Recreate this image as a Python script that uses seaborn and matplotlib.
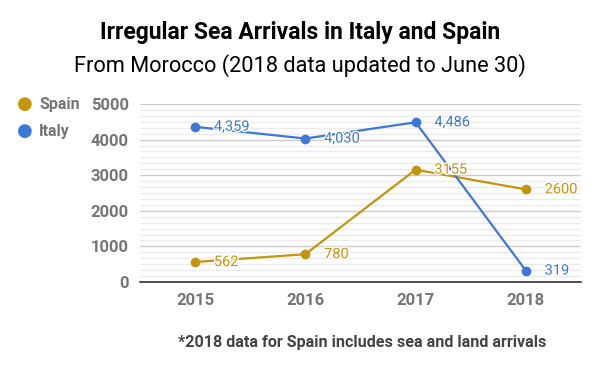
import pandas as pd
import matplotlib.pyplot as plt
import matplotlib.patheffects as pe
import seaborn as sns
from matplotlib.ticker import MultipleLocator

# data
years = ["2015", "2016", "2017", "2018"]
italy = [4359, 4030, 4486, 319]
spain = [562, 780, 3155, 2600]
italy_labels = ["4,359", "4,030", "4,486", "319"]
spain_labels = ["562", "780", "3155", "2600"]

df = pd.DataFrame({
    "year": years * 2,
    "arrivals": spain + italy,
    "country": ["Spain"] * 4 + ["Italy"] * 4,
})

sns.set_style("white")
plt.rcParams['font.family'] = ['Roboto', 'DejaVu Sans']

colors = {"Spain": "#c4950b", "Italy": "#3c78d8"}

fig = plt.figure(figsize=(6, 3.71), dpi=100)
ax = fig.add_axes([140 / 600, 1 - 282 / 371, 441 / 600, 178 / 371])

sns.lineplot(data=df, x="year", y="arrivals", hue="country", palette=colors,
             marker="o", markersize=7, markeredgewidth=0, linewidth=1.6,
             sort=False, ax=ax, legend=False, zorder=3)

# point labels, with a thin white halo like the original
halo = [pe.withStroke(linewidth=2, foreground="white")]
for name, vals, texts in [("Italy", italy, italy_labels), ("Spain", spain, spain_labels)]:
    for i, (v, t) in enumerate(zip(vals, texts)):
        ax.annotate(t, (i, v), xytext=(13.5, 0), textcoords="offset points",
                    va="center", ha="left", fontsize=10.5, color=colors[name],
                    zorder=4, path_effects=halo)

ax.set_xlim(-0.5, 3.5)
ax.set_ylim(0, 5000)
ax.yaxis.set_major_locator(MultipleLocator(1000))
ax.yaxis.set_minor_locator(MultipleLocator(1000 / 6))
ax.grid(True, which="major", axis="y", color="#cccccc", linewidth=1)
ax.grid(True, which="minor", axis="y", color="#ebebeb", linewidth=1)
ax.set_axisbelow(True)
for s in ["top", "right", "left"]:
    ax.spines[s].set_visible(False)
ax.spines["bottom"].set_color("#333333")
ax.spines["bottom"].set_linewidth(1.2)
ax.tick_params(axis="both", which="both", length=0, labelsize=12, labelcolor="#757575", pad=8)
for lab in ax.get_xticklabels() + ax.get_yticklabels():
    lab.set_fontweight("bold")
ax.set_xlabel("")
ax.set_ylabel("")

# legend drawn as text at top left
for name, y in [("Spain", 104), ("Italy", 131)]:
    fig.text(25 / 600, 1 - y / 371, "\u25CF", color=colors[name], fontsize=13,
             ha="center", va="center", family="DejaVu Sans")
    fig.text(39 / 600, 1 - y / 371, name, color="#757575", fontsize=11.5,
             fontweight="bold", ha="left", va="center")

fig.text(0.5, 1 - 33 / 371, "Irregular Sea Arrivals in Italy and Spain",
         ha="center", va="center", fontsize=16.5, fontweight="bold", color="#000000")
fig.text(0.5, 1 - 66 / 371, "From Morocco (2018 data updated to June 30)",
         ha="center", va="center", fontsize=15.7, color="#000000")
fig.text(362 / 600, 1 - 342 / 371, "*2018 data for Spain includes sea and land arrivals",
         ha="center", va="center", fontsize=11.6, fontweight="bold", color="#444444")

fig.savefig("out.png", dpi=100)
